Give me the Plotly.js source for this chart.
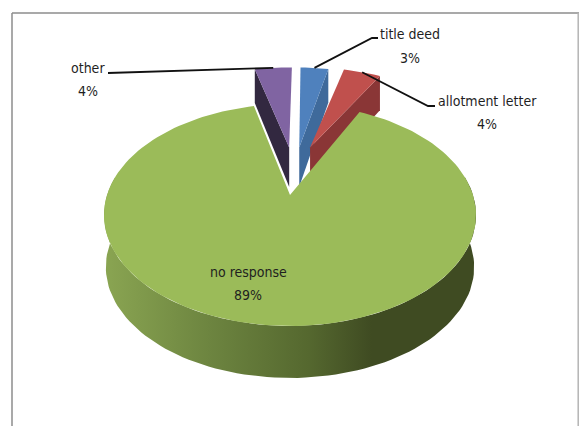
<!DOCTYPE html>
<html>
<head>
<meta charset="utf-8">
<script src="https://cdn.plot.ly/plotly-3.0.1.min.js"></script>
<style>html,body{margin:0;padding:0;background:#fff}#chart{width:579px;height:426px}</style>
</head>
<body>
<div id="chart"></div>
<script>
// Tenure documents held, share of responses
const categories = ['title deed', 'allotment letter', 'no response', 'other'];
const percentages = [3, 4, 89, 4];

const topColors  = ['#4f81bd', '#c0504d', '#9bbb59', '#8064a2'];
const sideColors = ['#3f6a9b', '#8a3636', '#556b2f', '#322840'];

// Ground-plane displacement, radius and turn of each exploded wedge
const explodeU = [0.055, 0.119, 0, -0.005];
const explodeV = [-0.48, -0.48, 0, -0.48];
const radius = [1.03, 1.03, 1, 1.03];
const turn = [1, 3.5, 1, 1];

// Perspective of the tilted disc, in page pixels
const CX = 290, CY = 215, R = 183, TILT = -0.18, LIFT = 111, SHIFT = -20, DEPTH = 42.6;
const RIM_DEPTH = 52, RIM_TAPER = 0.99;

function project(u, v) {
  const w = 1 + TILT * v;
  return [CX + R * u / w, CY + (LIFT * v + SHIFT) / w];
}
const depthAt = v => DEPTH / (1 + TILT * v);

function rimPoint(i, deg) {
  const a = (deg + turn[i]) * Math.PI / 180;
  return [explodeU[i] + radius[i] * Math.sin(a), explodeV[i] - radius[i] * Math.cos(a)];
}

function wedge(i, from, to) {
  const pts = [];
  const n = Math.max(6, Math.round((to - from) / 2));
  for (let k = 0; k <= n; k++) pts.push(rimPoint(i, from + (to - from) * k / n));
  return pts;
}

function polygon(uv, color, gradient) {
  const t = {
    type: 'scatter', mode: 'lines', hoverinfo: 'skip', showlegend: false,
    x: uv.map(p => p[0]), y: uv.map(p => p[1]),
    fill: 'toself', fillcolor: color, line: {width: 0}
  };
  if (gradient) t.fillgradient = gradient;
  return t;
}

const total = percentages.reduce((a, b) => a + b, 0);
const spans = [];
percentages.reduce((acc, p, i) => {
  spans[i] = [acc / total * 360, (acc + p) / total * 360];
  return acc + p;
}, 0);

function topFace(i) {
  const apex = project(explodeU[i], explodeV[i]);
  const arc = wedge(i, spans[i][0], spans[i][1]).map(p => project(p[0], p[1]));
  return [apex, ...arc, apex];
}

// Radial wall of a raised wedge; which edge shows depends on the wedge
function radialWall(i, edgeDeg) {
  const cu = explodeU[i], cv = explodeV[i];
  const [ou, ov] = rimPoint(i, edgeDeg);
  const c = project(cu, cv), o = project(ou, ov);
  return [c, o, [o[0], o[1] + depthAt(ov)], [c[0], c[1] + depthAt(cv)], c];
}

// Front rim of the large wedge, slightly narrower at its base
function rimWall(i) {
  const arc = wedge(i, 79, 279);
  const upper = arc.map(p => project(p[0], p[1]));
  const lower = upper.map(q => [CX + (q[0] - CX) * RIM_TAPER, q[1] + RIM_DEPTH]);
  return [...upper, ...lower.reverse(), upper[0]];
}

const rimGradient = {
  type: 'horizontal',
  colorscale: [[0, '#8aa552'], [0.28, '#6d8540'], [0.55, '#55682f'], [0.72, '#3f4b22'], [1, '#3f4b22']]
};

const traces = [
  polygon(radialWall(3, spans[3][0]), sideColors[3]),
  polygon(topFace(3), topColors[3]),
  polygon(radialWall(0, spans[0][1]), sideColors[0]),
  polygon(topFace(0), topColors[0]),
  polygon(radialWall(1, spans[1][1]), sideColors[1]),
  polygon(topFace(1), topColors[1]),
  polygon(rimWall(2), sideColors[2], rimGradient),
  polygon(topFace(2), topColors[2])
];

// Leader lines run from the middle of a wedge's outer edge to its label
const leaderElbows = {0: [[372, 38], [378, 38]], 1: [[428, 106], [435, 106]], 3: [[108, 73]]};
Object.keys(leaderElbows).forEach(key => {
  const i = +key;
  const start = project(...rimPoint(i, (spans[i][0] + spans[i][1]) / 2));
  const path = [start, ...leaderElbows[i]];
  traces.push({
    type: 'scatter', mode: 'lines', hoverinfo: 'skip', showlegend: false,
    x: path.map(p => p[0]), y: path.map(p => p[1]),
    line: {color: '#111', width: 1.8}
  });
});

// Label centres: name line and percentage line
const labelX = [410, 487, 248, 88];
const nameY = [34, 101, 272, 68];
const pctY = [58, 124, 295, 91];
const font = {family: '"DejaVu Sans Condensed", "Liberation Sans Narrow", sans-serif', size: 14, color: '#1f1f1f'};
const annotations = [];
categories.forEach((name, i) => {
  annotations.push({x: labelX[i], y: nameY[i], xref: 'x', yref: 'y', text: name, showarrow: false, font, xanchor: 'center', yanchor: 'middle'});
  annotations.push({x: labelX[i], y: pctY[i], xref: 'x', yref: 'y', text: percentages[i] + '%', showarrow: false, font, xanchor: 'center', yanchor: 'middle'});
});

const hidden = {visible: false, fixedrange: true};
const layout = {
  width: 579, height: 426,
  margin: {l: 0, r: 0, t: 0, b: 0},
  paper_bgcolor: '#fff', plot_bgcolor: '#fff',
  showlegend: false,
  xaxis: Object.assign({range: [0, 579]}, hidden),
  yaxis: Object.assign({range: [426, 0]}, hidden),
  annotations,
  shapes: [
    {type: 'line', xref: 'x', yref: 'y', x0: 12, x1: 12, y0: 13, y1: 426, line: {color: '#8c8c8c', width: 1.5}},
    {type: 'line', xref: 'x', yref: 'y', x0: 12, x1: 579, y0: 13, y1: 13, line: {color: '#8c8c8c', width: 1.5}},
    {type: 'line', xref: 'x', yref: 'y', x0: 578.2, x1: 578.2, y0: 13, y1: 426, line: {color: '#b4b4b4', width: 1.5}}
  ]
};

Plotly.newPlot('chart', traces, layout, {staticPlot: true, displayModeBar: false});
</script>
</body>
</html>
